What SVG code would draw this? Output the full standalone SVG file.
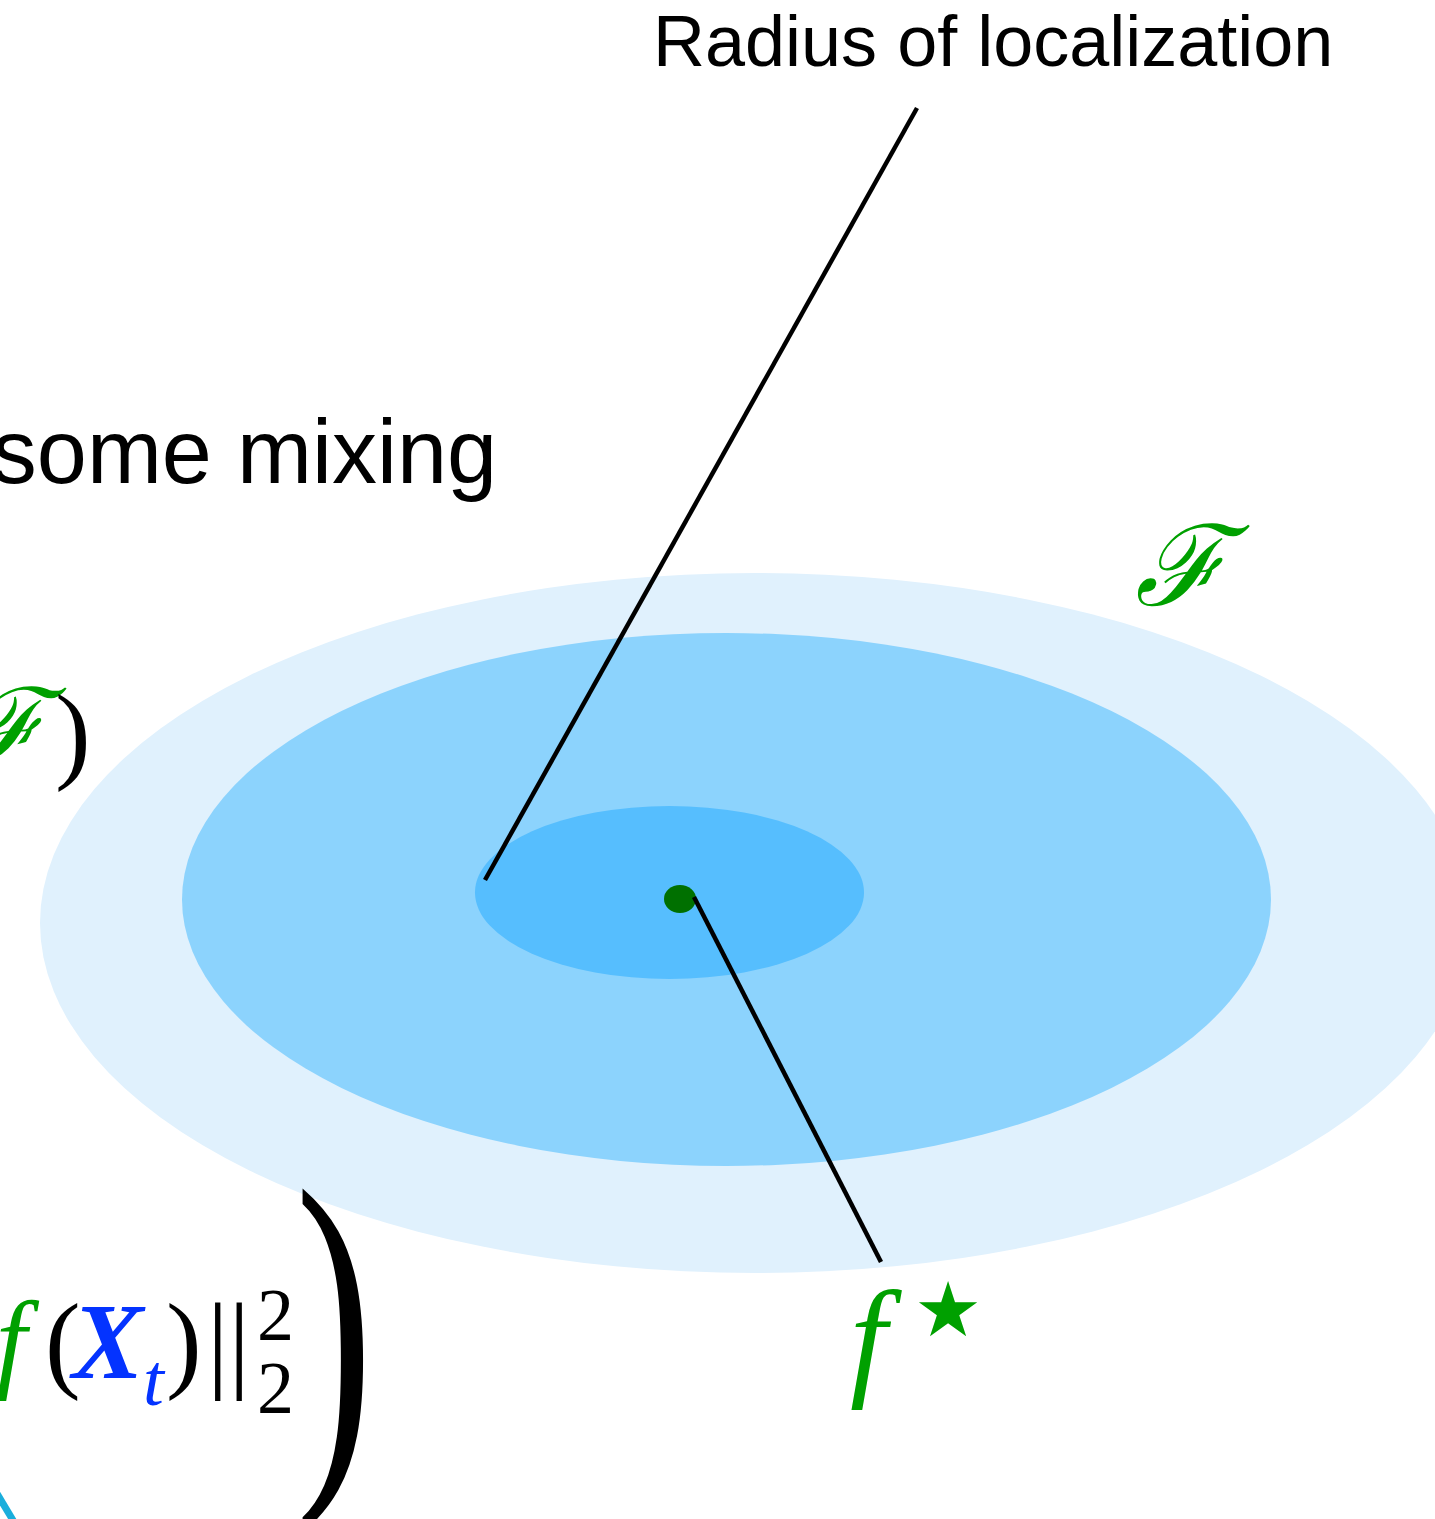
<svg xmlns="http://www.w3.org/2000/svg" width="1435" height="1519" viewBox="0 0 1435 1519">
<style>
.sans{font-family:"Liberation Sans",Arial,sans-serif;fill:#000}
.serif{font-family:"Liberation Serif","Times New Roman",serif;fill:#000}
.green{fill:#00A000}
.blue{fill:#0433FF}
.script{font-family:"DejaVu Serif","Liberation Serif",serif;font-style:italic;fill:#00A000}
.conn{stroke:#000;stroke-width:4.5;fill:none}
</style>
<rect width="1435" height="1519" fill="#fff"/>
<g id="text-mixing"><text class="sans" x="497" y="483" font-size="90" text-anchor="end">some mixing</text></g>
<g id="radius-label"><text class="sans" x="653" y="66" font-size="72">Radius of localization</text></g>
<g id="class-F-outer"><ellipse cx="755" cy="923" rx="715" ry="350" fill="#E0F1FD"/></g>
<g id="class-F-middle"><ellipse cx="726.5" cy="899.5" rx="544.5" ry="266.5" fill="#8CD3FD"/></g>
<g id="class-F-inner"><ellipse cx="669.5" cy="892.5" rx="194.5" ry="86.5" fill="#56BEFE"/></g>
<g id="fstar-dot"><ellipse cx="680" cy="899" rx="16" ry="14" fill="#007000"/></g>
<g id="connectors">
<line class="conn" x1="485" y1="880" x2="917" y2="108"/>
<line class="conn" x1="694" y1="897" x2="881" y2="1262"/>
<line x1="-4" y1="1492" x2="14" y2="1522" stroke="#1AAEDC" stroke-width="7"/>
</g>
<g id="label-F"><text class="script" x="1135" y="605" font-size="112">ℱ</text></g>
<g id="label-fstar">
<text class="serif green" x="850" y="1382" font-size="132" font-style="italic">f</text>
<text x="914" y="1336" font-size="76" font-family="DejaVu Sans,sans-serif" class="green">★</text>
</g>
<g id="formula-top"><text class="script" x="-40" y="762" font-size="104">ℱ</text><text class="serif" x="55" y="769" font-size="107">)</text></g>
<g id="formula-bottom">
<text class="serif green" x="-4" y="1378" font-size="110" font-style="italic">f</text>
<text class="serif" x="45" y="1378" font-size="107">(</text>
<text class="serif blue" x="72" y="1378" font-size="107" font-style="italic" font-weight="bold">X</text>
<text class="serif blue" x="143" y="1405" font-size="75" font-style="italic">t</text>
<text class="serif" x="166" y="1378" font-size="107">)</text>
<text class="serif" x="207" y="1378" font-size="107">||</text>
<text class="serif" x="257" y="1340" font-size="74">2</text>
<text class="serif" x="257" y="1413" font-size="74">2</text>
<text class="serif" transform="translate(295 1452) scale(2.2 3.55)" font-size="107">)</text>
</g>
</svg>
